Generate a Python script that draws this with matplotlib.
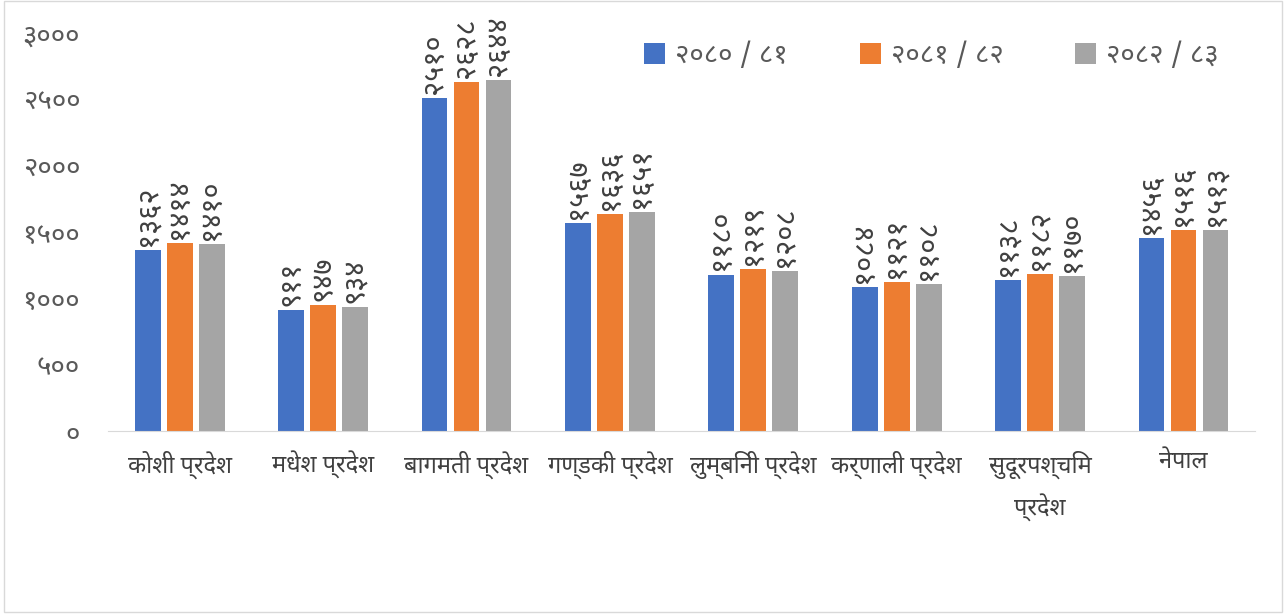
"""
Bar chart of three fiscal years by province (Devanagari labels)
"""

import matplotlib
matplotlib.use("Agg")
import matplotlib.pyplot as plt
import numpy as np

plt.rcParams['font.family'] = ['Noto Sans Devanagari', 'Hind', 'Mukta', 'DejaVu Sans']

# Data
provinces = ['कोशी प्रदेश', 'मधेश प्रदेश', 'बागमती प्रदेश', 'गण्डकी प्रदेश',
             'लुम्बिनी प्रदेश', 'कर्णाली प्रदेश', 'सुदूरपश्चिम\nप्रदेश', 'नेपाल']
years = ['२०८० / ८१', '२०८१ / ८२', '२०८२ / ८३']
fy_2080 = [1362, 911, 2510, 1567, 1180, 1084, 1138, 1456]
fy_2081 = [1414, 947, 2628, 1636, 1219, 1121, 1182, 1516]
fy_2082 = [1410, 934, 2644, 1651, 1208, 1108, 1170, 1513]
yticks = [0, 500, 1000, 1500, 2000, 2500, 3000]
colors = ['#4472C4', '#ED7D31', '#A5A5A5']

DEV_DIGITS = str.maketrans('0123456789', '०१२३४५६७८९')


def to_dev(n):
    "Write an integer with Devanagari digits."
    return str(n).translate(DEV_DIGITS)


fig = plt.figure(figsize=(12.86, 6.14), dpi=100)
ax = fig.add_axes([0.084, 0.298, 0.892, 0.648])

x = np.arange(len(provinces))
width = 0.18
step = 0.223
for i, (vals, lab) in enumerate(zip([fy_2080, fy_2081, fy_2082], years)):
    bars = ax.bar(x + (i - 1) * step, vals, width, color=colors[i], label=lab)
    for b, v in zip(bars, vals):
        ax.annotate(to_dev(v), (b.get_x() + b.get_width() / 2, b.get_height()),
                    xytext=(0, 3), textcoords='offset points', rotation=90,
                    ha='center', va='bottom', fontsize=21, color='#404040')

ax.set_xlim(-0.5, len(provinces) - 0.5)
ax.set_ylim(0, 3000)
ax.set_yticks(yticks)
ax.set_yticklabels([to_dev(t) for t in yticks], fontsize=20, color='#595959')
ax.set_xticks(x)
ax.set_xticklabels(provinces, fontsize=17, color='#404040', linespacing=1.7)
ax.tick_params(axis='y', length=0, pad=20)
ax.tick_params(axis='x', length=0, pad=14)

for s in ['top', 'right', 'left']:
    ax.spines[s].set_visible(False)
ax.spines['bottom'].set_color('#D9D9D9')

leg = ax.legend(loc='upper right', bbox_to_anchor=(0.99, 1.04), ncol=3, frameon=False,
                fontsize=20, handlelength=0.75, handleheight=0.75, columnspacing=2.6,
                handletextpad=0.35)
for t in leg.get_texts():
    t.set_color('#595959')

# light frame around the figure
fig.patches.append(plt.Rectangle((0.003, 0.004), 0.994, 0.994, transform=fig.transFigure,
                                 fill=False, edgecolor='#D9D9D9', linewidth=1))

fig.savefig('out.png')
